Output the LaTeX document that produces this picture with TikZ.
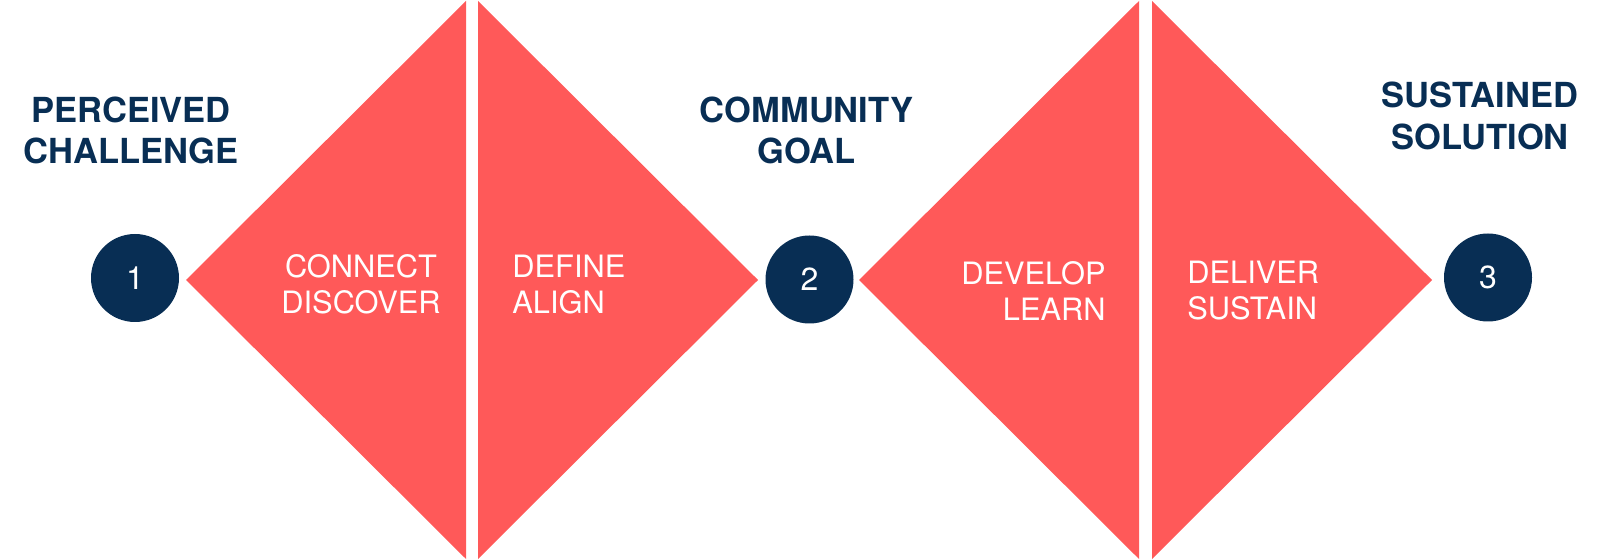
\documentclass[tikz,border=0pt]{standalone}
\usepackage{fontspec}
\setmainfont{TeX Gyre Heros}
\definecolor{coral}{RGB}{255,89,89}
\definecolor{navy}{RGB}{8,46,84}
\begin{document}
\begin{tikzpicture}[x=0.5pt,y=-0.5pt,
  tri/.style={fill=coral,draw=none},
  numcirc/.style={circle,fill=navy,draw=none,minimum size=44pt,inner sep=0pt,text=white,font=\fontsize{16pt}{19pt}\selectfont},
  heading/.style={text=navy,inner sep=0pt,font=\fontsize{17.25pt}{20pt}\selectfont\bfseries},
  steptext/.style={text=white,inner sep=0pt,font=\fontsize{15.4pt}{18pt}\selectfont}]
\useasboundingbox (0,0) rectangle (1600,560);
% triangles
\path[tri] (186,280) -- (466,1) -- (466,559) -- cycle;
\path[tri] (478,1) -- (758,280) -- (478,559) -- cycle;
\path[tri] (859,280) -- (1139,1) -- (1139,559) -- cycle;
\path[tri] (1152,1) -- (1432,280) -- (1152,559) -- cycle;
% circles
\node[numcirc] (c1) at (135,278) {1};
\node[numcirc] (c2) at (809.5,279.5) {2};
\node[numcirc] (c3) at (1488,277.5) {3};
% headings
\node[heading,anchor=base] (h1a) at (131,123) {PERCEIVED};
\node[heading,anchor=base] (h1b) at (131,164) {CHALLENGE};
\node[heading,anchor=base] (h2a) at (806.5,123) {COMMUNITY};
\node[heading,anchor=base] (h2b) at (806.5,164) {GOAL};
\node[heading,anchor=base] (h3a) at (1480,107.5) {SUSTAINED};
\node[heading,anchor=base] (h3b) at (1480,150) {SOLUTION};
% step labels
\node[steptext,anchor=base] (s1a) at (361,277.7) {CONNECT};
\node[steptext,anchor=base] (s1b) at (361,313.5) {DISCOVER};
\node[steptext,anchor=base west] (s2a) at (512,277.7) {DEFINE};
\node[steptext,anchor=base west] (s2b) at (512,313.5) {ALIGN};
\node[steptext,anchor=base east] (s3a) at (1106,284.5) {DEVELOP};
\node[steptext,anchor=base east] (s3b) at (1106,321) {LEARN};
\node[steptext,anchor=base west] (s4a) at (1187,283.5) {DELIVER};
\node[steptext,anchor=base west] (s4b) at (1187,320) {SUSTAIN};
\end{tikzpicture}
\end{document}
